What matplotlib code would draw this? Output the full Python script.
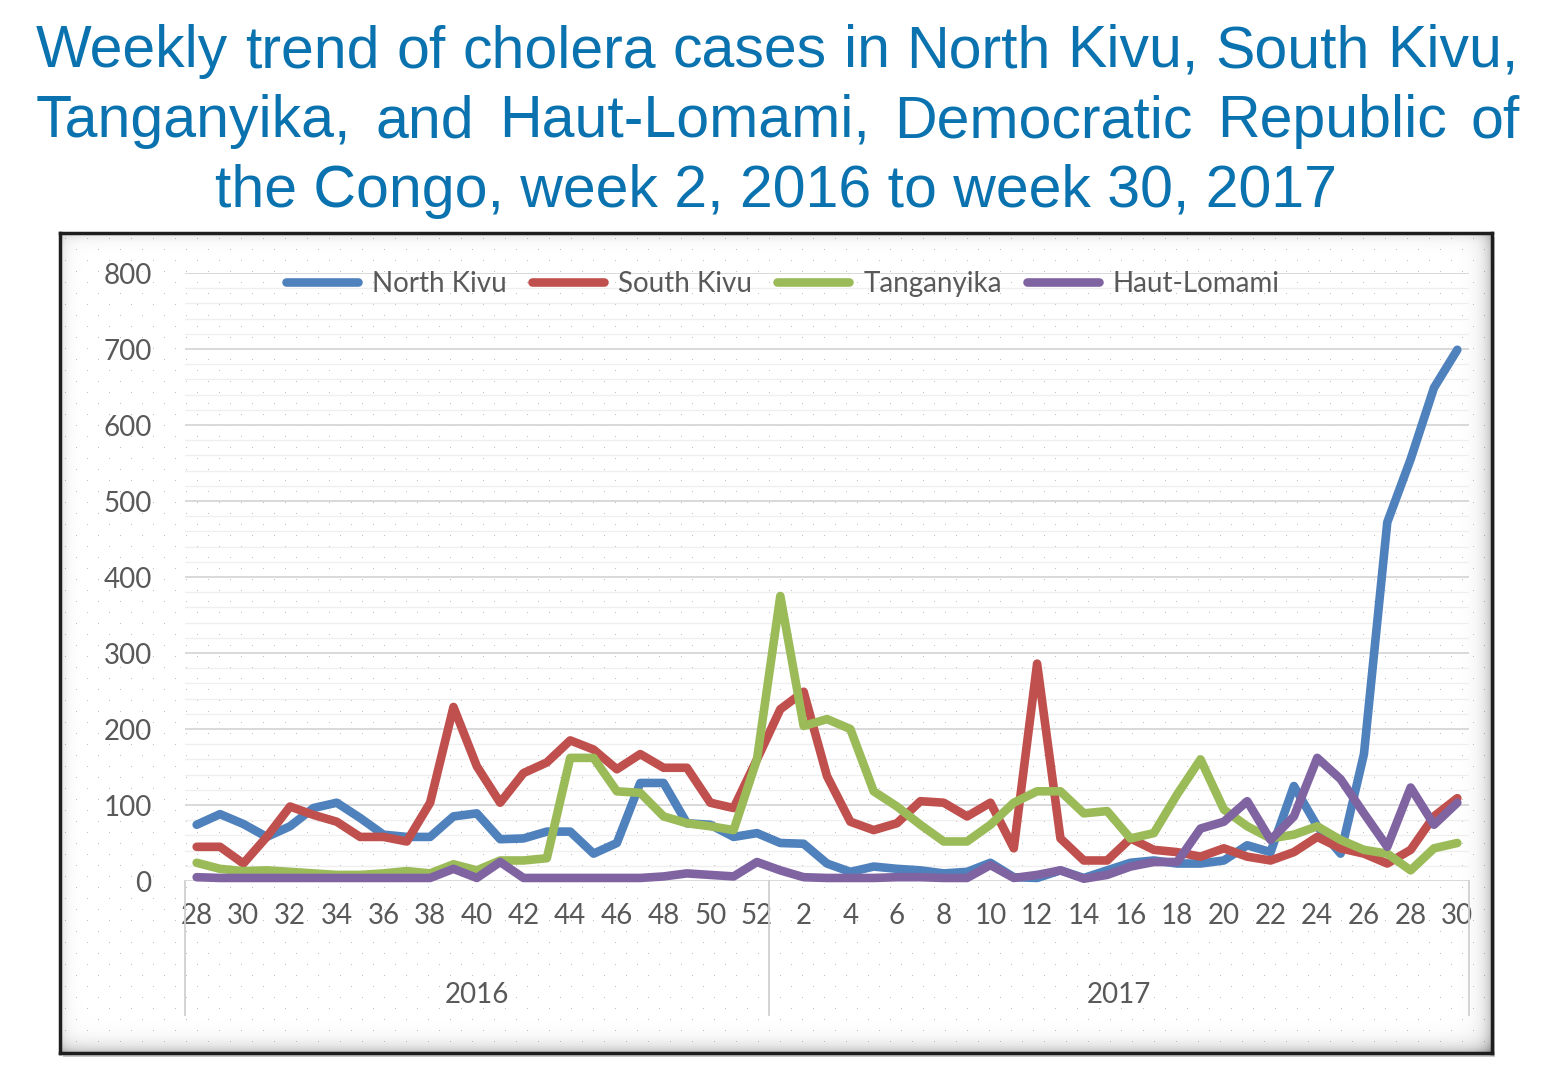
import numpy as np
import matplotlib
matplotlib.use("Agg")
from matplotlib import pyplot as plt
from matplotlib.patches import Rectangle
from matplotlib.lines import Line2D

# weeks shown on the category axis
weeks_2016 = list(range(28, 53))
weeks_2017 = list(range(1, 31))
years = ["2016", "2017"]

north_kivu = [74, 88, 75, 58, 72, 96, 103, 83, 61, 58, 58, 85, 89, 55, 56, 65, 65, 36, 50, 129, 129, 76, 74, 58, 63,
              50, 49, 23, 12, 19, 16, 14, 10, 12, 24, 5, 4, 14, 4, 14, 24, 27, 23, 23, 27, 47, 38, 125, 72, 36, 167, 472, 555, 649, 699]
south_kivu = [45, 45, 23, 58, 98, 87, 78, 58, 58, 52, 103, 229, 151, 103, 142, 156, 185, 173, 147, 167, 149, 149, 103, 96, 160,
              226, 249, 138, 78, 67, 76, 105, 103, 85, 103, 43, 286, 56, 27, 27, 56, 41, 38, 32, 43, 32, 27, 38, 58, 43, 36, 23, 41, 85, 109]
tanganyika = [24, 16, 13, 14, 12, 10, 8, 8, 10, 13, 10, 22, 14, 27, 27, 30, 162, 162, 118, 116, 85, 76, 72, 67, 160,
              375, 204, 213, 200, 118, 98, 74, 52, 52, 74, 103, 118, 118, 89, 92, 56, 63, 114, 160, 94, 72, 56, 61, 72, 54, 41, 36, 14, 43, 50]
haut_lomami = [5, 4, 4, 4, 4, 4, 4, 4, 4, 4, 4, 16, 4, 25, 4, 4, 4, 4, 4, 4, 6, 10, 8, 6, 25,
               14, 5, 4, 4, 4, 5, 5, 4, 4, 21, 4, 8, 14, 3, 8, 19, 25, 25, 69, 78, 105, 54, 85, 162, 134, 89, 45, 123, 74, 103]

series_names = ["North Kivu", "South Kivu", "Tanganyika", "Haut-Lomami"]
series_colors = ["#4F81BD", "#C0504D", "#9BBB59", "#8064A2"]

title_lines = ["Weekly trend of cholera cases in North Kivu, South Kivu,",
               "Tanganyika, and Haut-Lomami, Democratic Republic of",
               "the Congo, week 2, 2016 to week 30, 2017"]

W, H = 1560, 1090
fig = plt.figure(figsize=(W / 100, H / 100), dpi=100)
fig.patch.set_facecolor("white")

# title (first two lines justified, last one centred)
title_color = "#0A72AE"
title_size = 42.5
renderer = fig.canvas.get_renderer()


def justify(line, y_px, x0, x1, size):
    words = line.split()
    texts = [fig.text(0, 1 - y_px / H, w, fontsize=size, color=title_color,
                      family="Liberation Sans", va="baseline") for w in words]
    widths = [t.get_window_extent(renderer).width for t in texts]
    gap = (x1 - x0 - sum(widths)) / (len(words) - 1)
    x = x0
    for t, w in zip(texts, widths):
        t.set_x(x / W)
        x += w + gap


justify(title_lines[0], 67, 36, 1518, title_size)
justify(title_lines[1], 137, 36, 1520, title_size)
fig.text(776 / W, 1 - 207 / H, title_lines[2], fontsize=title_size, color=title_color,
         family="Liberation Sans", ha="center", va="baseline")

# chart frame with dotted texture and inner shadow
fx0, fy0, fx1, fy1 = 60, 233, 1492, 1053
fw, fh = fx1 - fx0, fy1 - fy0
img = np.ones((fh, fw))
for k, r in enumerate(range(5, fh, 11)):
    img[r, np.arange(5 + (k % 2) * 11, fw, 22)] = 0.75
yy, xx = np.mgrid[0:fh, 0:fw]
shade = (1 - 0.12 * np.exp(-xx / 6) - 0.12 * np.exp(-yy / 6)
         - 0.25 * np.exp(-(fw - 1 - xx) / 8) - 0.25 * np.exp(-(fh - 1 - yy) / 8))
img = img * shade

fig.patches.append(Rectangle(((fx0 + 3) / W, 1 - (fy1 + 4) / H), fw / W, fh / H,
                             transform=fig.transFigure, facecolor="#c8c8c8",
                             edgecolor="none", zorder=-5))
bg = fig.add_axes([fx0 / W, 1 - fy1 / H, fw / W, fh / H])
bg.imshow(img, cmap="gray", vmin=0, vmax=1, aspect="auto", interpolation="nearest")
bg.set_xticks([])
bg.set_yticks([])
for s in bg.spines.values():
    s.set_color("#1e1e1e")
    s.set_linewidth(2.5)

# plot area
px0, py0, px1, py1 = 185, 273, 1469, 881
ax = fig.add_axes([px0 / W, 1 - py1 / H, (px1 - px0) / W, (py1 - py0) / H])
ax.patch.set_alpha(0)

x = np.arange(len(weeks_2016) + len(weeks_2017))
all_series = [north_kivu, south_kivu, tanganyika, haut_lomami]
for vals, name, col in zip(all_series, series_names, series_colors):
    ax.plot(x, vals, color=col, lw=6.2, solid_joinstyle="round",
            solid_capstyle="round", label=name, zorder=3, clip_on=False)

ax.set_xlim(-0.5, len(x) - 0.5)
ax.set_ylim(0, 800)
ax.set_yticks(range(0, 801, 100))
ax.set_yticks(range(0, 801, 20), minor=True)
ax.grid(axis="y", which="major", color="#d9d9d9", lw=1.4, zorder=1)
ax.grid(axis="y", which="minor", color="#efefef", lw=0.9, zorder=1)
for s in ax.spines.values():
    s.set_visible(False)

all_weeks = weeks_2016 + weeks_2017
tick_pos = [i for i, w in enumerate(all_weeks) if w % 2 == 0]
ax.set_xticks(tick_pos)
ax.set_xticklabels([str(all_weeks[i]) for i in tick_pos])
ax.tick_params(axis="x", which="both", length=0, pad=16, labelsize=20, labelcolor="#595959")
ax.tick_params(axis="y", which="both", length=0, pad=24, labelsize=20, labelcolor="#595959")
for lab in ax.get_xticklabels() + ax.get_yticklabels():
    lab.set_family("Lato")

# two-level category axis: separators and year labels
trans = ax.get_xaxis_transform()
sep_bottom = -(1015 - py1) / (py1 - py0)
for sx in [-0.5, len(weeks_2016) - 0.5, len(x) - 0.5]:
    ax.plot([sx, sx], [0, sep_bottom], transform=trans, color="#d0d0d0", lw=1.3, clip_on=False)
year_y = -(995 - py1) / (py1 - py0)
ax.text((len(weeks_2016) - 1) / 2, year_y, years[0], transform=trans, ha="center", va="center",
        fontsize=20, color="#595959", family="Lato")
ax.text(len(weeks_2016) + (len(weeks_2017) - 1) / 2, year_y, years[1], transform=trans, ha="center",
        va="center", fontsize=20, color="#595959", family="Lato")

leg_handles = [Line2D([], [], color=c, lw=6.2, solid_capstyle="round") for c in series_colors]
leg = fig.legend(leg_handles, series_names, loc="center", bbox_to_anchor=(783 / W, 1 - 284 / H),
                 ncol=4, frameon=False, fontsize=20, handlelength=2.6, handletextpad=0.5,
                 columnspacing=0.9)
for t in leg.get_texts():
    t.set_color("#595959")
    t.set_family("Lato")

fig.savefig("out.png", dpi=100)
